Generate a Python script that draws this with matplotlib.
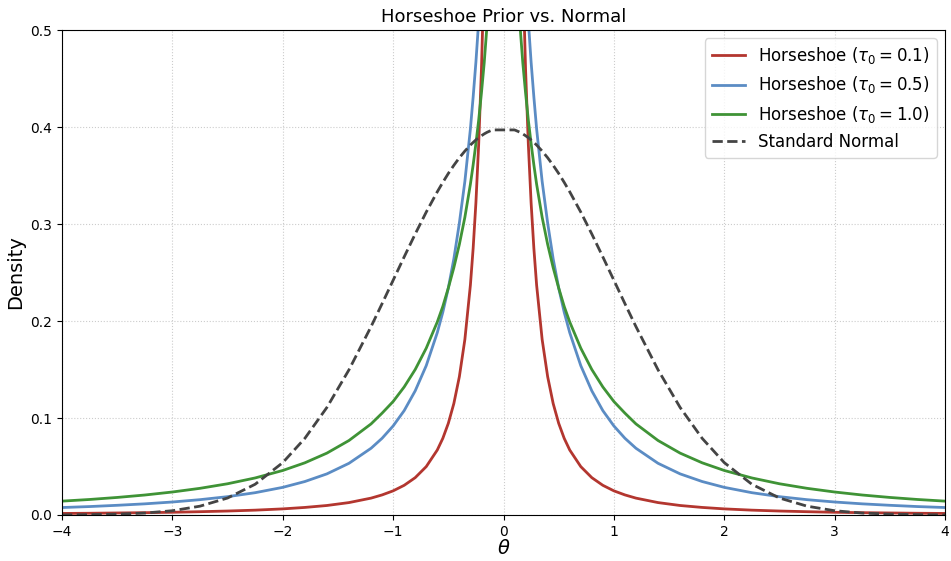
import numpy as np
import matplotlib
matplotlib.use("Agg")
import matplotlib.pyplot as plt

# theta grid (positive half, curves are symmetric)
theta_pos = [0.1, 0.125, 0.15, 0.175, 0.2, 0.225, 0.25, 0.275, 0.3, 0.35,
             0.4, 0.45, 0.5, 0.55, 0.6, 0.7, 0.8, 0.9, 1.0, 1.1,
             1.2, 1.4, 1.6, 1.8, 2.0, 2.25, 2.5, 2.75, 3.0, 3.25,
             3.5, 3.75, 4.0]

# densities (values above 0.5 run off the top)
hs_tau01 = [1.172, 0.891, 0.699, 0.561, 0.459, 0.382, 0.322, 0.275, 0.237, 0.181,
            0.1426, 0.1149, 0.0945, 0.0790, 0.0670, 0.0499, 0.0385, 0.0306, 0.0249, 0.0207,
            0.0174, 0.0128, 0.0098, 0.0078, 0.0063, 0.0050, 0.0041, 0.0034, 0.0028, 0.0024,
            0.0021, 0.0018, 0.0016]
hs_tau05 = [0.869, 0.765, 0.682, 0.615, 0.558, 0.509, 0.467, 0.431, 0.398, 0.344,
            0.301, 0.264, 0.234, 0.209, 0.188, 0.154, 0.128, 0.1076, 0.0918, 0.0791,
            0.0688, 0.0533, 0.0424, 0.0345, 0.0285, 0.0230, 0.0189, 0.0158, 0.0134, 0.0115,
            0.0100, 0.0087, 0.0077]
hs_tau10 = [0.603, 0.548, 0.504, 0.466, 0.435, 0.407, 0.383, 0.361, 0.341, 0.307,
            0.279, 0.255, 0.234, 0.215, 0.199, 0.172, 0.150, 0.132, 0.117, 0.105,
            0.0939, 0.0768, 0.0638, 0.0538, 0.0459, 0.0382, 0.0322, 0.0275, 0.0237, 0.0206,
            0.0181, 0.0160, 0.0143]
normal = [0.3970, 0.3958, 0.3945, 0.3929, 0.3910, 0.3890, 0.3867, 0.3841, 0.3814, 0.3752,
          0.3683, 0.3605, 0.3521, 0.3429, 0.3332, 0.3123, 0.2897, 0.2661, 0.2420, 0.2179,
          0.1942, 0.1497, 0.1109, 0.0790, 0.0540, 0.0317, 0.0175, 0.0091, 0.0044, 0.0020,
          0.0009, 0.0004, 0.0001]

labels = [r'Horseshoe ($\tau_0 = 0.1$)', r'Horseshoe ($\tau_0 = 0.5$)',
          r'Horseshoe ($\tau_0 = 1.0$)', 'Standard Normal']
colors = ['#b3362f', '#5b8cc4', '#3f9336']


def mirror(vals):
    vals = np.asarray(vals)
    return np.concatenate([vals[::-1], vals])


x = np.concatenate([-np.asarray(theta_pos)[::-1], np.asarray(theta_pos)])

fig = plt.figure(figsize=(9.51, 5.61), dpi=100)
ax = fig.add_axes([0.0652, 0.082, 0.9285, 0.8645])

for ys, lab, c in zip([hs_tau01, hs_tau05, hs_tau10], labels[:3], colors):
    ax.plot(x, mirror(ys), color=c, lw=2, label=lab)
ax.plot(x, mirror(normal), color='#444444', lw=2, ls='--', label=labels[3])

ax.set_xlim(-4, 4)
ax.set_ylim(0, 0.5)
ax.set_xticks(np.arange(-4, 5, 1))
ax.set_yticks(np.arange(0, 0.51, 0.1))
ax.grid(True, linestyle=':', color='#cccccc', linewidth=0.8)
ax.set_title('Horseshoe Prior vs. Normal', fontsize=13)
ax.set_xlabel(r'$\theta$', fontsize=14, labelpad=0)
ax.set_ylabel('Density', fontsize=14)
ax.legend(fontsize=12, loc='upper right')

fig.savefig('out.png', dpi=100)
